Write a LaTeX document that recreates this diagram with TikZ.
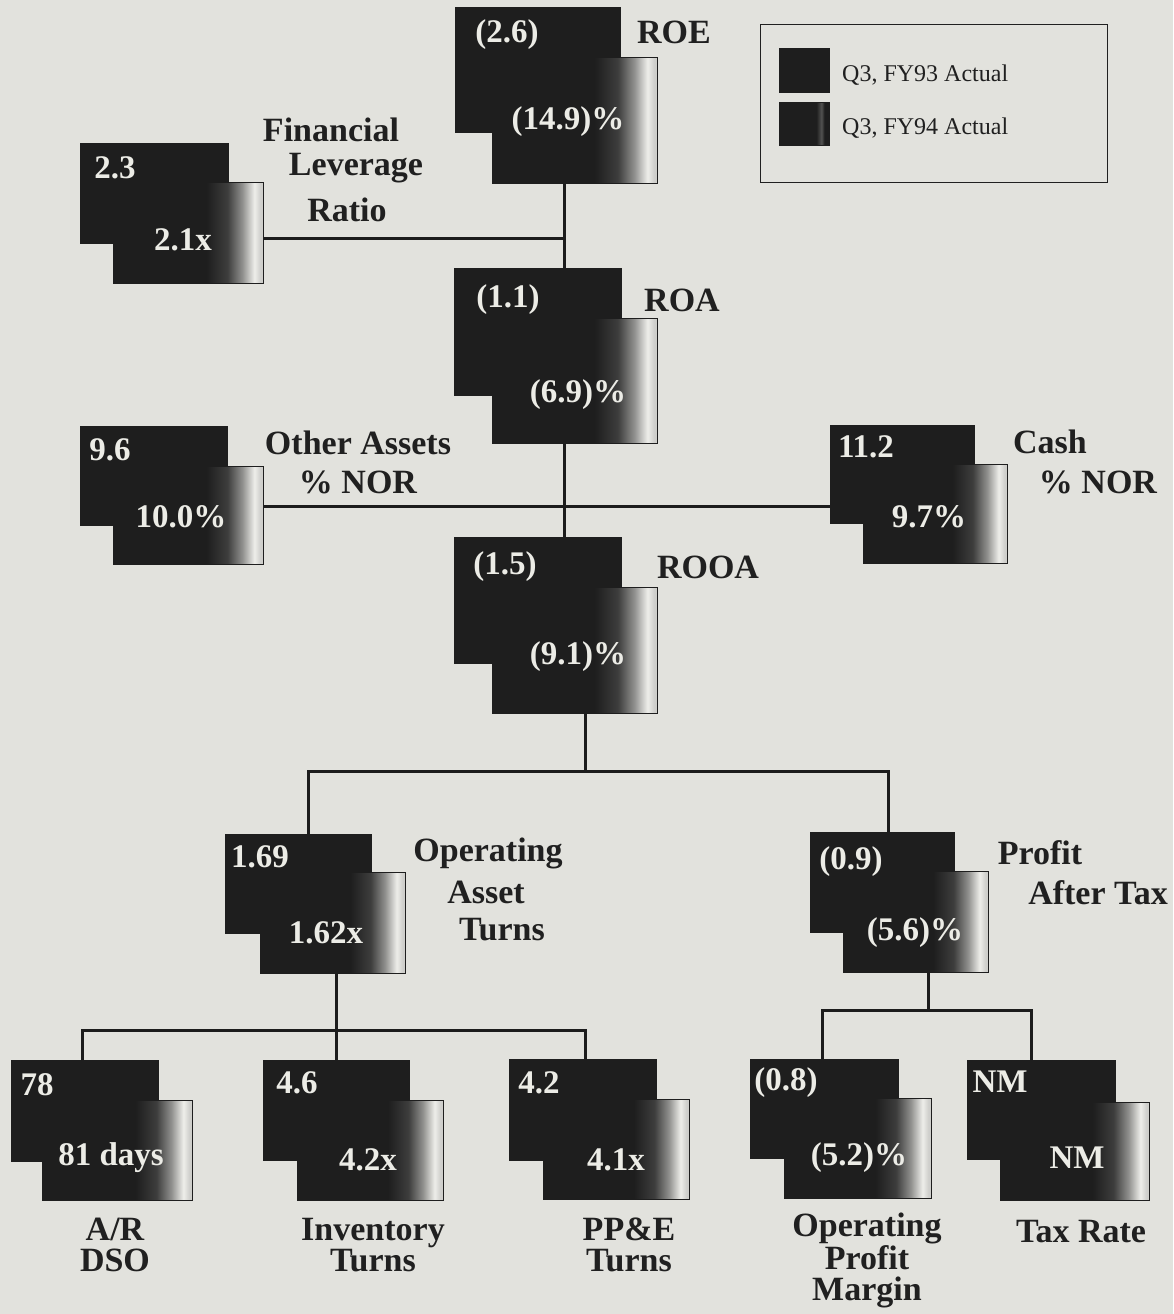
\documentclass[tikz,border=0pt]{standalone}
\usepackage{fontspec}
\setmainfont{Liberation Serif}
\definecolor{bgc}{RGB}{226,226,221}
\definecolor{boxc}{RGB}{30,30,30}
\definecolor{numc}{RGB}{236,236,230}
\definecolor{lblc}{RGB}{32,32,32}
\definecolor{linec}{RGB}{28,28,28}
\definecolor{fadec}{RGB}{238,238,234}
\pgfdeclarehorizontalshading{frontfade}{100bp}{color(0bp)=(boxc); color(56bp)=(boxc); color(63bp)=(boxc!85!fadec); color(68bp)=(boxc!45!fadec); color(72bp)=(fadec); color(74bp)=(fadec!85!boxc); color(100bp)=(fadec!85!boxc)}
\pgfdeclarehorizontalshading{legfade}{100bp}{color(0bp)=(boxc); color(62bp)=(boxc); color(67bp)=(boxc!75!fadec); color(70bp)=(boxc); color(100bp)=(boxc)}
\tikzset{
  bk/.style={fill=boxc, draw=boxc, line width=0.8pt, anchor=north west, inner sep=0pt},
  fr/.style={shade, shading=frontfade, draw=boxc, line width=0.8pt, anchor=north west, inner sep=0pt},
  num/.style={text=numc, font=\fontsize{33}{36}\selectfont\bfseries, inner sep=0pt},
  lbl/.style={text=lblc, font=\fontsize{34}{38}\selectfont\bfseries, inner sep=0pt},
  blbl/.style={text=lblc, font=\fontsize{34}{31}\selectfont\bfseries, inner sep=0pt, align=center},
  leg/.style={text=lblc, font=\fontsize{24}{28}\selectfont, inner sep=0pt, anchor=west},
  conn/.style={draw=linec, line width=3pt},
}
\begin{document}
\begin{tikzpicture}[x=1pt,y=-1pt]
\fill[bgc] (0,0) rectangle (1173,1314);
\useasboundingbox (0,0) rectangle (1173,1314);

% ---------- legend ----------
\node[draw=lblc, line width=1.4pt, anchor=north west, inner sep=0pt, minimum width=347pt, minimum height=158pt] (legbox) at (760,24) {};
\node[bk, minimum width=50pt, minimum height=44pt] (legsqA) at (779,48) {};
\node[shade, shading=legfade, draw=boxc, line width=0.8pt, anchor=north west, inner sep=0pt, minimum width=50pt, minimum height=43pt] (legsqB) at (779,102) {};
\node[leg] (legtA) at (842,75) {Q3, FY93 Actual};
\node[leg] (legtB) at (842,128) {Q3, FY94 Actual};

% ---------- ROE ----------
\node[bk, minimum width=165pt, minimum height=125pt] (roeB) at (455,7) {};
\node[fr, minimum width=165pt, minimum height=126pt] (roeF) at (492,57) {};
\node[num] (roeBt) at (507,35) {(2.6)};
\node[num] (roeFt) at (568,122) {(14.9)\%};
\node[lbl] (roeL) at (674,32) {ROE};

% ---------- Financial leverage ----------
\node[bk, minimum width=148pt, minimum height=100pt] (flrB) at (80,143) {};
\node[fr, minimum width=150pt, minimum height=101pt] (flrF) at (113,182) {};
\node[num] (flrBt) at (115,168) {2.3};
\node[num] (flrFt) at (183,240) {2.1x};
\node[lbl] (flrLa) at (331,130) {Financial};
\node[lbl] (flrLb) at (356,168) {Leverage};
\node[lbl] (flrLc) at (347,210) {Ratio};

% ---------- ROA ----------
\node[bk, minimum width=167pt, minimum height=127pt] (roaB) at (454,268) {};
\node[fr, minimum width=165pt, minimum height=125pt] (roaF) at (492,318) {};
\node[num] (roaBt) at (508,300) {(1.1)};
\node[num] (roaFt) at (578,395) {(6.9)\%};
\node[lbl] (roaL) at (682,300) {ROA};

% ---------- Other assets ----------
\node[bk, minimum width=147pt, minimum height=99pt] (oaB) at (80,426) {};
\node[fr, minimum width=150pt, minimum height=98pt] (oaF) at (113,466) {};
\node[num] (oaBt) at (110,450) {9.6};
\node[num] (oaFt) at (181,517) {10.0\%};
\node[lbl] (oaLa) at (358,443) {Other Assets};
\node[lbl] (oaLb) at (358,482) {\% NOR};

% ---------- Cash ----------
\node[bk, minimum width=144pt, minimum height=98pt] (cashB) at (830,425) {};
\node[fr, minimum width=144pt, minimum height=99pt] (cashF) at (863,464) {};
\node[num] (cashBt) at (866,447) {11.2};
\node[num] (cashFt) at (929,517) {9.7\%};
\node[lbl] (cashLa) at (1050,442) {Cash};
\node[lbl] (cashLb) at (1098,482) {\% NOR};

% ---------- ROOA ----------
\node[bk, minimum width=167pt, minimum height=126pt] (rooaB) at (454,537) {};
\node[fr, minimum width=165pt, minimum height=126pt] (rooaF) at (492,587) {};
\node[num] (rooaBt) at (505,567) {(1.5)};
\node[num] (rooaFt) at (578,657) {(9.1)\%};
\node[lbl] (rooaL) at (708,567) {ROOA};

% ---------- Operating asset turns ----------
\node[bk, minimum width=146pt, minimum height=99pt] (oatB) at (225,834) {};
\node[fr, minimum width=145pt, minimum height=101pt] (oatF) at (260,872) {};
\node[num] (oatBt) at (260,857) {1.69};
\node[num] (oatFt) at (326,933) {1.62x};
\node[lbl] (oatLa) at (488,853) {Operating};
\node[lbl] (oatLb) at (486,892) {Asset};
\node[lbl] (oatLc) at (502,930) {Turns};

% ---------- Profit after tax ----------
\node[bk, minimum width=144pt, minimum height=100pt] (patB) at (810,832) {};
\node[fr, minimum width=145pt, minimum height=101pt] (patF) at (843,871) {};
\node[num] (patBt) at (851,862) {(0.9)};
\node[num] (patFt) at (915,933) {(5.6)\%};
\node[lbl] (patLa) at (1040,853) {Profit};
\node[lbl] (patLb) at (1098,893) {After Tax};

% ---------- A/R DSO ----------
\node[bk, minimum width=147pt, minimum height=101pt] (arB) at (11,1060) {};
\node[fr, minimum width=150pt, minimum height=100pt] (arF) at (42,1100) {};
\node[num] (arBt) at (37,1085) {78};
\node[num] (arFt) at (111,1158) {81 days};
\node[blbl, anchor=north] (arL) at (115,1218) {A/R\\DSO};

% ---------- Inventory turns ----------
\node[bk, minimum width=146pt, minimum height=100pt] (invB) at (263,1060) {};
\node[fr, minimum width=146pt, minimum height=100pt] (invF) at (297,1100) {};
\node[num] (invBt) at (297,1083) {4.6};
\node[num] (invFt) at (368,1160) {4.2x};
\node[blbl, anchor=north] (invL) at (373,1218) {Inventory\\Turns};

% ---------- PP&E turns ----------
\node[bk, minimum width=147pt, minimum height=101pt] (ppeB) at (509,1059) {};
\node[fr, minimum width=146pt, minimum height=100pt] (ppeF) at (543,1099) {};
\node[num] (ppeBt) at (539,1083) {4.2};
\node[num] (ppeFt) at (616,1160) {4.1x};
\node[blbl, anchor=north] (ppeL) at (629,1218) {PP\&E\\Turns};

% ---------- Operating profit margin ----------
\node[bk, minimum width=148pt, minimum height=99pt] (opmB) at (750,1059) {};
\node[fr, minimum width=147pt, minimum height=100pt] (opmF) at (784,1098) {};
\node[num] (opmBt) at (786,1083) {(0.8)};
\node[num] (opmFt) at (859,1158) {(5.2)\%};
\node[blbl, anchor=north] (opmL) at (867,1213) {Operating\\Profit\\Margin};

% ---------- Tax rate ----------
\node[bk, minimum width=148pt, minimum height=99pt] (taxB) at (967,1060) {};
\node[fr, minimum width=149pt, minimum height=98pt] (taxF) at (1000,1102) {};
\node[num] (taxBt) at (1000,1082) {NM};
\node[num] (taxFt) at (1077,1158) {NM};
\node[lbl] (taxL) at (1081,1232) {Tax Rate};

% ---------- connectors ----------
\coordinate (sp) at (564,0);
\coordinate (j1) at (564,238);
\coordinate (j2) at (0,506);
\coordinate (r1) at (585,771);
\coordinate (h1l) at (308,771);
\coordinate (h1r) at (888,771);
\coordinate (o1) at (336,1030);
\coordinate (h2l) at (82,1030);
\coordinate (h2r) at (585,1030);
\coordinate (p1) at (928,1010);
\coordinate (h3l) at (822,1010);
\coordinate (h3r) at (1031,1010);

\draw[conn] (roeF.south -| sp) -- (roaB.north -| sp);
\draw[conn] (flrF.east |- j1) -- (j1);
\draw[conn] (roaF.south -| sp) -- (rooaB.north -| sp);
\draw[conn] (oaF.east |- j2) -- (cashB.west |- j2);
\draw[conn] (rooaF.south -| r1) -- (r1);
\draw[conn] (oatB.north -| h1l) -- (h1l) -- (h1r) -- (patB.north -| h1r);
\draw[conn] (oatF.south -| o1) -- (o1);
\draw[conn] (arB.north -| h2l) -- (h2l) -- (h2r) -- (ppeB.north -| h2r);
\draw[conn] (o1) -- (invB.north -| o1);
\draw[conn] (patF.south -| p1) -- (p1);
\draw[conn] (opmB.north -| h3l) -- (h3l) -- (h3r) -- (taxB.north -| h3r);
\end{tikzpicture}
\end{document}
